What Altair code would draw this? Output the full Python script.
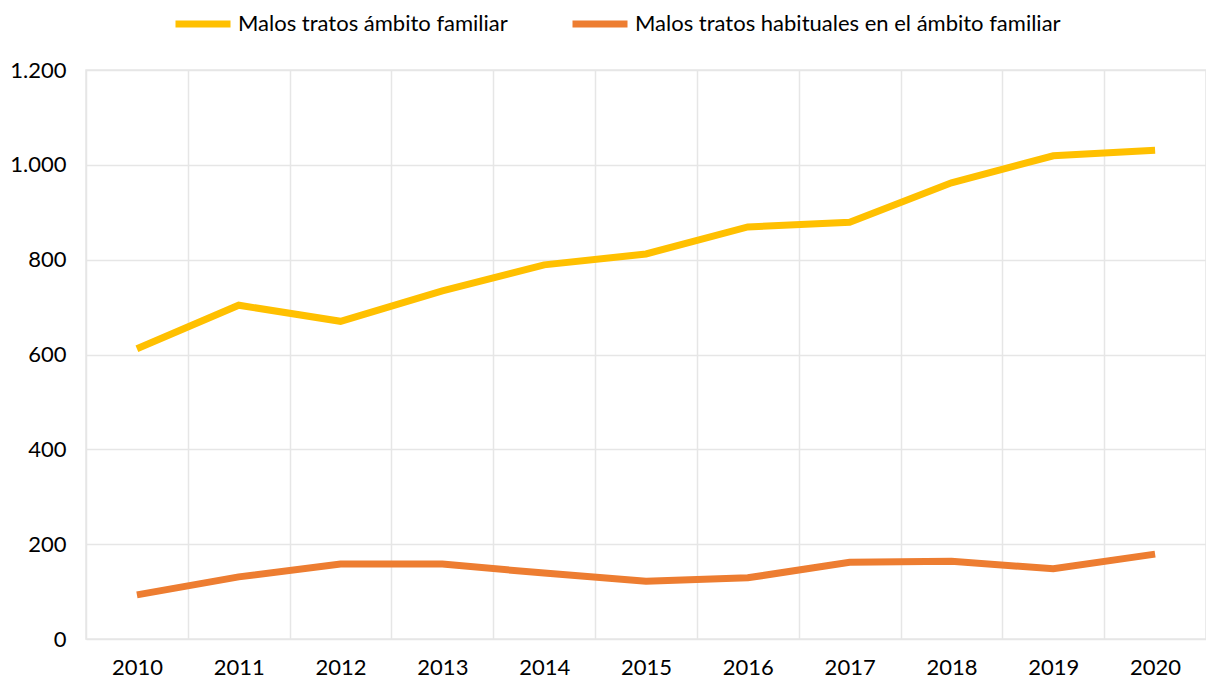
import altair as alt
import pandas as pd

years = [2010, 2011, 2012, 2013, 2014, 2015, 2016, 2017, 2018, 2019, 2020]
malos_tratos = [612, 704, 670, 734, 789, 812, 869, 879, 962, 1019, 1031]
malos_tratos_habituales = [93, 131, 158, 158, 139, 122, 129, 162, 164, 148, 179]
series_names = ["Malos tratos ámbito familiar", "Malos tratos habituales en el ámbito familiar"]
series_colors = ["#FFC000", "#ED7D31"]

rows = []
for y, a, b in zip(years, malos_tratos, malos_tratos_habituales):
    rows.append({"year": y, "serie": series_names[0], "value": a})
    rows.append({"year": y, "serie": series_names[1], "value": b})
df = pd.DataFrame(rows)

FONT = "Lato"
FS = 22
x_values = [y - 0.5 for y in years] + years + [years[-1] + 0.5]

chart = alt.Chart(df).mark_line(strokeWidth=7, strokeCap="butt", strokeJoin="miter").encode(
    x=alt.X("year:Q",
            scale=alt.Scale(domain=[years[0] - 0.5, years[-1] + 0.5], nice=False, zero=False),
            axis=alt.Axis(values=x_values, title=None, ticks=False, domain=False,
                          labelExpr="datum.value % 1 == 0 ? datum.value : ''",
                          labelFontSize=FS, labelFont=FONT, labelColor="#000000", labelPadding=18,
                          labelOverlap=False,
                          grid=True, gridColor="#e6e6e6", gridWidth=1.5,
                          gridOpacity=alt.condition("datum.value % 1 != 0", alt.value(1), alt.value(0)))),
    y=alt.Y("value:Q",
            scale=alt.Scale(domain=[0, 1200], nice=False),
            axis=alt.Axis(values=[0, 200, 400, 600, 800, 1000, 1200], title=None, ticks=False, domain=False,
                          labelExpr="replace(format(datum.value, ','), ',', '.')",
                          labelFontSize=FS, labelFont=FONT, labelColor="#000000", labelPadding=20,
                          grid=True, gridColor="#e6e6e6", gridWidth=1.5)),
    color=alt.Color("serie:N",
                    scale=alt.Scale(domain=series_names, range=series_colors),
                    legend=alt.Legend(title=None, orient="none", direction="horizontal",
                                      legendX=86, legendY=-77,
                                      symbolType="stroke", symbolSize=3025, symbolStrokeWidth=7,
                                      labelFontSize=FS, labelFont=FONT, labelColor="#000000",
                                      labelLimit=0, columnPadding=50, labelOffset=4)),
).properties(
    width=1120, height=569,
    autosize=alt.AutoSizeParams(type="none"),
    padding={"left": 78, "top": 62, "right": 0, "bottom": 46},
).configure_view(stroke="#e6e6e6", strokeWidth=1.5)

chart.save("out.html", embed_options={"renderer": "svg", "actions": False})
